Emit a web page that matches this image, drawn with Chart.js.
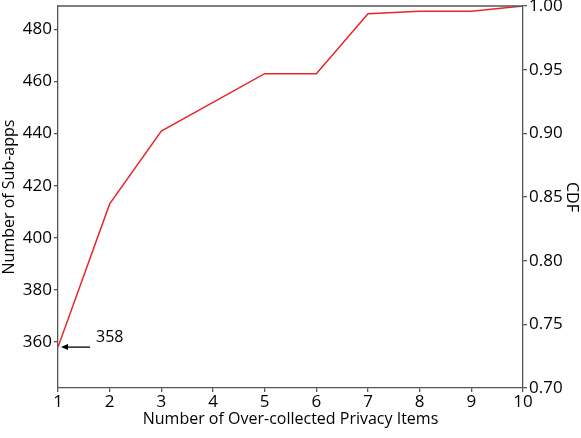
<!DOCTYPE html>
<html>
<head>
<meta charset="utf-8">
<script src="https://cdn.jsdelivr.net/npm/chart.js@4/dist/chart.umd.min.js"></script>
<style>
  html, body { margin: 0; padding: 0; background: #fff; }
  #wrap { width: 581px; height: 438px; }
</style>
</head>
<body>
<div id="wrap"><canvas id="myChart"></canvas></div>
<script>
// Over-collected privacy items vs number of sub-apps (cumulative)
const items = [1, 2, 3, 4, 5, 6, 7, 8, 9, 10];
const subApps = [358, 413, 441, 452, 463, 463, 486, 487, 487, 489];

const xTicks = [1, 2, 3, 4, 5, 6, 7, 8, 9, 10];
const leftTicks = [360, 380, 400, 420, 440, 460, 480];
const cdfTicks = [0.70, 0.75, 0.80, 0.85, 0.90, 0.95, 1.00];

const annotValue = 358;
const annotText = '358';

const FONT = '"Open Sans", "Noto Sans", sans-serif';
const AXIS = '#555555';

// matplotlib-like top spine + the "358" arrow
const extras = {
    id: 'extras',
    afterDraw(chart) {
        const ctx = chart.ctx;
        const a = chart.chartArea;
        ctx.save();
        ctx.strokeStyle = AXIS;
        ctx.lineWidth = 1.3;
        ctx.beginPath();
        ctx.moveTo(a.left, a.top);
        ctx.lineTo(a.right, a.top);
        ctx.stroke();

        const px = chart.scales.x.getPixelForValue(items[0]);
        const py = chart.scales.y.getPixelForValue(annotValue);
        ctx.strokeStyle = '#000';
        ctx.fillStyle = '#000';
        ctx.lineWidth = 1.3;
        ctx.beginPath();
        ctx.moveTo(px + 32, py);
        ctx.lineTo(px + 8, py);
        ctx.stroke();
        ctx.beginPath();
        ctx.moveTo(px + 3, py);
        ctx.lineTo(px + 10, py - 3);
        ctx.lineTo(px + 10, py + 3);
        ctx.closePath();
        ctx.fill();

        ctx.font = '16px ' + FONT;
        ctx.textBaseline = 'middle';
        ctx.textAlign = 'left';
        ctx.fillText(annotText, px + 38, py - 10);
        ctx.restore();
    }
};

// keep the plot box tight to the top edge like the original
function fitVertical(s) {
    s.width = 58;
    s.paddingTop = 6;
    s.paddingBottom = 0;
}

const ctx = document.getElementById('myChart');
new Chart(ctx, {
    type: 'line',
    data: {
        datasets: [{
            label: 'Sub-apps',
            data: items.map((x, i) => ({ x: x, y: subApps[i] })),
            borderColor: '#e8262b',
            borderWidth: 1.5,
            pointRadius: 0,
            tension: 0,
            fill: false,
            yAxisID: 'y'
        }]
    },
    options: {
        responsive: true,
        maintainAspectRatio: false,
        animation: false,
        layout: { padding: { top: 6, left: 0, right: 0, bottom: 0 } },
        plugins: {
            legend: { display: false },
            tooltip: { enabled: false }
        },
        scales: {
            x: {
                type: 'linear',
                min: 1,
                max: 10,
                afterBuildTicks: s => { s.ticks = xTicks.map(v => ({ value: v })); },
                afterFit: s => { s.height = 50; },
                grid: { drawOnChartArea: false, drawTicks: true, tickLength: 4, color: AXIS, lineWidth: 1.3 },
                border: { color: AXIS, width: 1.3 },
                ticks: { color: '#000', font: { family: FONT, size: 17 }, padding: 0, maxRotation: 0 },
                title: {
                    display: true,
                    text: 'Number of Over-collected Privacy Items',
                    color: '#000',
                    font: { family: FONT, size: 16 },
                    padding: { top: 0, bottom: 9 }
                }
            },
            y: {
                position: 'left',
                min: 342.3,
                max: 489,
                afterBuildTicks: s => { s.ticks = leftTicks.map(v => ({ value: v })); },
                afterFit: fitVertical,
                grid: { drawOnChartArea: false, drawTicks: true, tickLength: 4, color: AXIS, lineWidth: 1.3 },
                border: { color: AXIS, width: 1.3 },
                ticks: { color: '#000', font: { family: FONT, size: 17 }, padding: 2 },
                title: {
                    display: true,
                    text: 'Number of Sub-apps',
                    color: '#000',
                    font: { family: FONT, size: 16 },
                    padding: { top: 0, bottom: 0 }
                }
            },
            y1: {
                position: 'right',
                display: true,
                min: 0.70,
                max: 1.00,
                afterBuildTicks: s => { s.ticks = cdfTicks.map(v => ({ value: v })); },
                afterFit: fitVertical,
                grid: { drawOnChartArea: false, drawTicks: true, tickLength: 4, color: AXIS, lineWidth: 1.3 },
                border: { color: AXIS, width: 1.3 },
                ticks: {
                    color: '#000',
                    font: { family: FONT, size: 17 },
                    padding: 2,
                    callback: v => v.toFixed(2)
                },
                title: {
                    display: true,
                    text: 'CDF',
                    color: '#000',
                    font: { family: FONT, size: 16 },
                    padding: { top: 0, bottom: 0 }
                }
            }
        }
    },
    plugins: [extras]
});
</script>
</body>
</html>
